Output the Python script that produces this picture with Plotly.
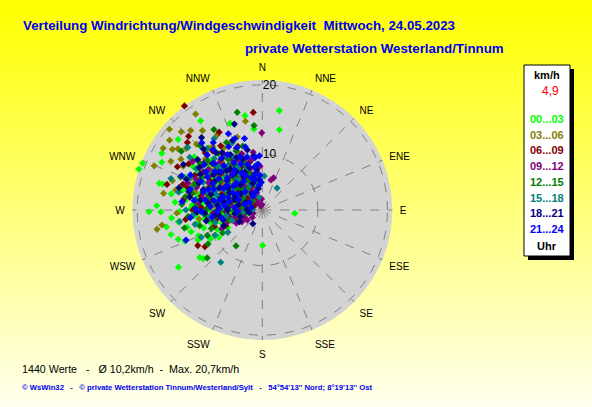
import plotly.graph_objects as go

# compass labels and radial ticks
directions = ["N", "NNE", "NE", "ENE", "E", "ESE", "SE", "SSE",
              "S", "SSW", "SW", "WSW", "W", "WNW", "NW", "NNW"]
direction_deg = [0, 22.5, 45, 67.5, 90, 112.5, 135, 157.5,
                 180, 202.5, 225, 247.5, 270, 292.5, 315, 337.5]
speed_ticks = [10, 20]
speed_range = [2, 20.7]

time_labels = ["00...03", "03...06", "06...09", "09...12",
               "12...15", "15...18", "18...21", "21...24"]
group_colors = ["#00FF00", "#808000", "#800000", "#800080",
                "#008000", "#008080", "#000080", "#0000FF"]

title_1 = "Verteilung Windrichtung/Windgeschwindigkeit  Mittwoch, 24.05.2023"
title_2 = "private Wetterstation Westerland/Tinnum"
footer_1 = "1440 Werte   -   Ø 10,2km/h  -  Max. 20,7km/h"
footer_2 = ("© WsWin32   -   © private Wetterstation Tinnum/Westerland/Sylt   -   "
            "54°54'13'' Nord; 8°19'13'' Ost")
unit_label = "km/h"
current_speed = "4,9"
hour_label = "Uhr"

# (direction in degrees, speed in km/h) per 3-hour block
pts_00_03 = [(252, 8.1), (256, 9.6), (258, 6.2), (261, 10.4), (263, 7.5), (265, 11.8),
             (267, 5.1), (268, 9.0), (271, 12.3), (272, 7.0), (274, 10.8), (276, 4.6),
             (277, 13.2), (279, 8.4), (281, 11.5), (283, 6.1), (284, 13.8), (286, 9.7),
             (288, 5.3), (289, 12.6), (291, 7.8), (293, 14.1), (295, 10.2), (297, 4.9),
             (298, 12.9), (300, 8.8), (302, 13.7), (304, 6.6), (306, 11.1), (308, 14.4),
             (310, 9.3), (313, 5.8), (316, 12.2), (319, 7.4), (322, 13.5), (325, 10.0),
             (251, 5.6), (254, 4.3), (262, 3.8), (270, 3.7), (287, 3.4), (299, 3.6),
             (259, 11.4), (264, 12.5), (269, 13.9), (275, 14.6), (280, 15.3), (253, 10.8),
             (246, 9.0), (243, 7.6), (248, 11.9), (262, 14.2), (257, 13.1), (255, 15.6),
             (260, 16.0), (253, 12.7), (248, 14.0), (245, 12.2), (241, 10.5), (238, 9.4),
             (265, 15.1), (266, 7.9), (270, 9.6), (273, 6.3), (278, 10.6), (282, 8.0),
             (285, 11.2), (290, 6.9), (294, 9.2), (296, 11.7), (301, 7.1), (305, 9.9),
             (309, 12.0), (274, 12.1), (279, 5.4), (287, 7.2), (292, 12.2), (260, 8.7),
             (264, 6.6), (257, 7.4), (268, 11.0), (283, 9.4), (297, 6.2), (303, 10.5),
             (312, 8.4), (318, 10.3),
             (9.7, 16.5), (12, 13.8), (349.6, 15.8), (339.6, 15.3), (354.1, 13.7),
             (325.3, 17.6), (310, 17.8), (299.4, 18.6), (291.3, 20.5), (288.3, 20.7),
             (295.4, 18.0), (284.5, 17.3), (284.6, 16.8), (272.3, 17.2), (269.1, 18.3),
             (268.9, 16.6), (250.8, 14.8), (232.8, 13.3), (230.5, 13.0), (235.7, 16.6),
             (179.4, 7.1), (95.8, 6.7)]
pts_03_06 = [(292, 10.5), (295, 13.2), (297, 8.1), (299, 15.0), (301, 11.6), (303, 6.9),
             (305, 14.2), (307, 9.8), (309, 16.1), (311, 12.4), (313, 7.5), (315, 15.4),
             (317, 10.9), (319, 13.8), (321, 8.6), (323, 16.3), (325, 11.9), (327, 6.4),
             (329, 14.6), (331, 9.2), (333, 12.7), (336, 7.9), (338, 10.8), (341, 13.1),
             (344, 6.5), (285, 12.0), (280, 9.4), (276, 13.5), (271, 10.1), (266, 8.3),
             (262, 11.2), (257, 6.8), (288, 15.6), (283, 14.8), (300, 4.8), (312, 4.4),
             (320, 5.2), (294, 6.0), (306, 17.0), (318, 17.4), (278, 5.7), (268, 14.3),
             (326, 3.9), (334, 4.6), (290, 3.5), (296, 9.9), (300, 12.4), (304, 8.7),
             (308, 11.3), (312, 13.0), (316, 8.2), (320, 11.0), (324, 9.4), (328, 12.5),
             (332, 8.1), (286, 10.3), (282, 7.4), (290, 12.6), (298, 6.8), (310, 10.2),
             (314, 5.9), (322, 13.6), (302, 15.8), (279, 11.7), (273, 8.6),
             (325.2, 18.8), (349.2, 15.0), (311, 19.7), (307, 18.7), (301.9, 18.8),
             (292.2, 18.8), (279.6, 16.4), (259.6, 17.4), (261.5, 16.6), (304, 17.6),
             (298, 16.9), (314, 18.2)]
pts_06_09 = [(254, 6.0), (258, 8.8), (261, 4.5), (264, 10.1), (267, 7.2), (270, 12.0),
             (272, 5.4), (275, 9.6), (278, 13.4), (280, 6.7), (283, 11.0), (286, 4.2),
             (288, 14.0), (291, 8.3), (294, 12.2), (296, 5.9), (299, 10.6), (302, 14.5),
             (304, 7.4), (307, 12.8), (310, 4.7), (312, 9.9), (315, 13.6), (318, 6.2),
             (321, 11.4), (324, 8.0), (327, 13.0), (330, 5.0), (333, 10.3), (336, 7.1),
             (339, 11.8), (342, 5.8), (345, 9.1), (348, 6.6), (351, 8.2), (355, 7.0),
             (247, 7.7), (251, 9.3), (263, 13.1), (285, 16.2), (297, 15.7), (315, 17.0),
             (331, 14.8), (338, 3.9), (300, 3.3), (268, 3.6), (266, 9.1), (272, 10.8),
             (276, 7.7), (281, 9.5), (284, 12.7), (289, 6.5), (293, 10.2), (297, 12.9),
             (300, 8.1), (305, 10.9), (309, 6.6), (314, 11.1), (317, 8.7), (323, 10.0),
             (328, 7.2), (334, 8.9), (340, 9.7), (344, 7.3), (261, 7.0), (287, 13.3),
             (303, 12.1), (320, 13.1), (292, 5.0), (326, 11.4),
             (323.2, 20.7), (354.7, 16.1), (312, 16.5), (241.1, 12.6), (237.4, 11.8),
             (348.3, 5.3)]
pts_09_12 = [(342, 4.6), (346, 6.1), (349, 5.2), (352, 7.4), (355, 5.9), (357, 8.3),
             (338, 7.8), (335, 9.9), (331, 5.5), (327, 8.7), (323, 6.3), (319, 10.5),
             (315, 4.1), (311, 7.1), (307, 11.7), (303, 5.6), (299, 9.0), (295, 12.5),
             (291, 6.4), (287, 10.2), (283, 4.9), (279, 8.0), (275, 11.3), (271, 5.3),
             (267, 8.9), (263, 4.4), (259, 6.9), (255, 5.0), (251, 7.3), (247, 4.8),
             (243, 6.2), (240, 5.4), (236, 4.6), (245, 8.4), (262, 9.8), (290, 13.4),
             (305, 14.2), (325, 12.0), (340, 10.6), (351, 10.4), (233, 3.8), (356, 3.6),
             (250, 3.4), (330, 3.3), (268, 7.1), (273, 9.5), (277, 6.7), (281, 10.8),
             (285, 8.1), (289, 12.0), (293, 7.6), (297, 10.7), (301, 7.9), (305, 9.3),
             (309, 12.8), (313, 8.8), (317, 11.2), (321, 9.0), (329, 10.4), (333, 7.0),
             (337, 11.6), (344, 8.2), (348, 9.4), (353, 6.8), (260, 8.1), (256, 6.0),
             (280, 5.3), (300, 5.4), (318, 6.1),
             (359.6, 13.1), (19.4, 6.9), (16, 6.5), (355, 2.8), (340, 2.6)]
pts_12_15 = [(250, 9.8), (253, 7.0), (256, 11.3), (259, 5.2), (262, 8.4), (265, 12.7),
             (268, 6.1), (271, 10.0), (274, 13.6), (277, 4.8), (280, 8.9), (283, 12.4),
             (286, 6.8), (289, 10.9), (292, 14.7), (295, 7.6), (298, 11.9), (301, 5.1),
             (304, 9.4), (307, 13.3), (310, 6.9), (313, 11.0), (316, 14.9), (319, 8.1),
             (322, 12.3), (325, 5.7), (328, 9.6), (332, 13.0), (335, 6.7), (339, 9.0),
             (343, 11.6), (347, 7.2), (352, 6.0), (245, 10.7), (240, 8.6), (238, 11.2),
             (257, 13.5), (297, 4.2), (312, 3.9), (275, 3.4), (329, 15.5), (306, 16.4),
             (258, 9.2), (264, 10.1), (269, 8.0), (273, 11.6), (278, 7.1), (282, 10.0),
             (287, 8.6), (291, 12.4), (295, 9.8), (300, 7.2), (303, 13.1), (308, 8.2),
             (312, 12.6), (317, 9.9), (321, 7.0), (326, 10.8), (331, 8.4), (336, 11.3),
             (341, 7.5), (272, 5.9), (290, 5.6), (315, 6.2), (280, 13.2), (299, 9.9),
             (345.6, 16.5), (354.4, 14.2), (216.2, 8.4), (229, 12.5)]
pts_15_18 = [(251, 6.6), (255, 9.0), (258, 11.9), (261, 7.3), (264, 4.7), (267, 10.6),
             (270, 13.0), (273, 8.0), (276, 5.8), (279, 11.7), (282, 14.3), (285, 7.9),
             (288, 10.4), (291, 4.5), (294, 13.4), (297, 9.1), (300, 6.3), (303, 11.4),
             (306, 14.9), (309, 8.5), (312, 5.4), (315, 10.8), (318, 13.9), (321, 7.6),
             (324, 4.6), (327, 11.2), (330, 9.0), (333, 6.0), (336, 12.6), (340, 8.3),
             (344, 10.0), (348, 5.5), (353, 8.6), (246, 11.6), (242, 9.7), (237, 7.9),
             (262, 14.0), (289, 15.9), (310, 16.0), (326, 14.4), (345, 3.9), (268, 3.5),
             (263, 9.6), (266, 12.0), (271, 7.1), (275, 9.4), (280, 10.2), (283, 7.0),
             (287, 12.6), (292, 9.3), (295, 11.4), (299, 8.0), (302, 13.2), (305, 7.2),
             (308, 10.9), (313, 9.1), (317, 12.1), (322, 10.1), (328, 8.0), (332, 10.6),
             (338, 9.8), (350, 7.1), (277, 8.4), (297, 6.0), (319, 5.6), (288, 8.9),
             (218.5, 11.6), (34, 5.8), (3.4, 6.9)]
pts_18_21 = [(253, 5.3), (256, 7.8), (259, 10.2), (262, 6.0), (265, 8.7), (268, 11.4),
             (271, 4.2), (274, 7.1), (277, 9.9), (280, 12.6), (283, 5.5), (286, 8.2),
             (289, 11.0), (292, 13.8), (295, 4.6), (298, 7.3), (301, 10.0), (304, 12.9),
             (307, 5.9), (310, 8.6), (313, 11.8), (316, 14.2), (319, 6.8), (322, 9.5),
             (325, 12.1), (328, 4.8), (331, 7.6), (334, 10.4), (337, 12.9), (340, 6.1),
             (343, 8.4), (346, 10.9), (349, 5.1), (352, 7.8), (355, 6.4), (258, 3.9),
             (300, 15.1), (320, 15.6), (285, 14.4), (248, 8.0), (243, 5.7),
             (263, 8.3), (267, 10.3), (270, 7.0), (276, 8.5), (279, 11.0), (282, 7.6),
             (287, 9.7), (290, 6.2), (293, 11.9), (297, 8.9), (300, 12.3), (303, 7.9),
             (306, 10.6), (311, 10.3), (314, 7.3), (318, 9.6), (321, 12.6), (326, 8.7),
             (330, 11.2), (335, 8.0), (339, 9.9), (345, 6.7), (351, 9.9), (284, 12.9),
             (308, 13.8), (295, 6.3),
             (342, 15.0), (214.4, 4.4)]
pts_21_24 = [(258, 7.9), (262, 9.3), (266, 5.6), (269, 10.8), (272, 8.2), (275, 6.0),
             (278, 11.9), (281, 9.1), (284, 6.9), (286, 12.8), (289, 8.0), (291, 10.3),
             (294, 5.7), (296, 13.5), (299, 8.4), (301, 11.2), (303, 6.3), (306, 9.7),
             (308, 12.6), (310, 7.4), (313, 10.1), (315, 13.2), (317, 5.6), (320, 8.6),
             (322, 11.5), (324, 14.0), (327, 6.9), (329, 9.9), (332, 12.3), (334, 7.5),
             (337, 10.3), (340, 4.8), (342, 8.9), (345, 11.4), (347, 6.5), (350, 8.3),
             (353, 5.6), (356, 7.0), (264, 12.4), (276, 13.6), (293, 14.6), (318, 15.0),
             (302, 4.1), (288, 4.6), (326, 4.4), (339, 13.0), (283, 3.6),
             (268, 8.5), (271, 11.6), (274, 9.5), (277, 7.5), (280, 10.3), (283, 8.3),
             (287, 10.9), (290, 7.2), (293, 9.6), (295, 11.8), (298, 10.1), (300, 6.9),
             (304, 11.8), (305, 8.2), (309, 10.8), (312, 8.8), (314, 11.6), (316, 7.4),
             (319, 10.4), (321, 13.2), (325, 9.0), (328, 11.4), (331, 8.1), (335, 9.3),
             (338, 11.7), (341, 6.9), (344, 9.9), (349, 7.3), (352, 9.6), (355, 8.6),
             (358, 6.0), (357, 9.8), (346, 12.6), (336, 14.0),
             (248.5, 13.8)]

groups = [pts_00_03, pts_03_06, pts_06_09, pts_09_12,
          pts_12_15, pts_15_18, pts_18_21, pts_21_24]

W, H = 592, 407
FONT = "Liberation Sans, Arial, sans-serif"
BLUE = "#0000EE"


def px(x):
    return x / W


def py(y):
    return 1 - y / H


fig = go.Figure()
for pts, col, lab in zip(groups, group_colors, time_labels):
    fig.add_trace(go.Scatterpolar(
        theta=[p[0] for p in pts], r=[p[1] for p in pts],
        mode="markers", name=lab, showlegend=False, hoverinfo="skip",
        marker=dict(symbol="diamond", size=5.5, color=col, line=dict(width=0)),
    ))

# yellow gradient background as horizontal strips
shapes = []
n = 80
for i in range(n):
    t = (i + 0.5) / n  # fraction from top
    b = int(round(238 * t))
    shapes.append(dict(type="rect", xref="paper", yref="paper", layer="below",
                       x0=0, x1=1, y0=1 - (i + 1) / n - 0.002, y1=1 - i / n,
                       fillcolor=f"rgb(255,255,{b})", line=dict(width=0)))
# legend box with shadow
shapes.append(dict(type="rect", xref="paper", yref="paper",
                   x0=px(528), x1=px(574), y0=py(260), y1=py(69),
                   fillcolor="black", line=dict(width=0)))
shapes.append(dict(type="rect", xref="paper", yref="paper",
                   x0=px(524), x1=px(570), y0=py(256), y1=py(65),
                   fillcolor="white", line=dict(color="black", width=1)))

ann = []
ann.append(dict(text=f"<b>{title_1}</b>", x=px(21), y=py(25), xanchor="left",
                yanchor="middle", font=dict(size=13.3, color=BLUE)))
ann.append(dict(text=f"<b>{title_2}</b>", x=px(243), y=py(49), xanchor="left",
                yanchor="middle", font=dict(size=13.3, color=BLUE)))
ann.append(dict(text=footer_1, x=px(20), y=py(369), xanchor="left",
                yanchor="middle", font=dict(size=10.7, color="black")))
ann.append(dict(text=f"<b>{footer_2}</b>", x=px(20), y=py(387), xanchor="left",
                yanchor="middle", font=dict(size=7.7, color=BLUE)))
ann.append(dict(text=f"<b>{unit_label}</b>", x=px(547), y=py(75), xanchor="center",
                yanchor="middle", font=dict(size=11, color="black")))
ann.append(dict(text=current_speed, x=px(550), y=py(91), xanchor="center",
                yanchor="middle", font=dict(size=12, color="red")))
for k, (lab, col) in enumerate(zip(time_labels, group_colors)):
    ann.append(dict(text=f"<b>{lab}</b>", x=px(547), y=py(119 + k * 15.7),
                    xanchor="center", yanchor="middle",
                    font=dict(size=11, color=col)))
ann.append(dict(text=f"<b>{hour_label}</b>", x=px(547), y=py(246), xanchor="center",
                yanchor="middle", font=dict(size=11, color="black")))
for a in ann:
    a.update(xref="paper", yref="paper", showarrow=False)

fig.update_layout(
    width=W, height=H,
    margin=dict(l=0, r=0, t=0, b=0),
    paper_bgcolor="#FFFF80",
    font=dict(family=FONT, color="black"),
    shapes=shapes,
    annotations=ann,
    polar=dict(
        domain=dict(x=[px(132.3), px(392.3)], y=[py(340), py(80)]),
        bgcolor="#D3D3D3",
        angularaxis=dict(
            rotation=90, direction="clockwise",
            tickmode="array", tickvals=direction_deg, ticktext=directions,
            showline=False, ticks="outside", ticklen=5,
            tickcolor="rgba(0,0,0,0)", showgrid=True,
            gridcolor="#808080", griddash="dash", gridwidth=1,
            tickfont=dict(size=10, color="black"),
        ),
        radialaxis=dict(
            range=speed_range, autorange=False, angle=90, side="clockwise",
            tickmode="array", tickvals=speed_ticks, showline=False, ticks="",
            showgrid=True, gridcolor="#808080", griddash="dash", gridwidth=1,
            tickfont=dict(size=12, color="black"), tickangle=90,
        ),
    ),
)

fig.write_html("out.html", config={"displayModeBar": False},
               post_script="document.body.style.margin='0';"
                           "document.body.style.overflow='hidden';")
